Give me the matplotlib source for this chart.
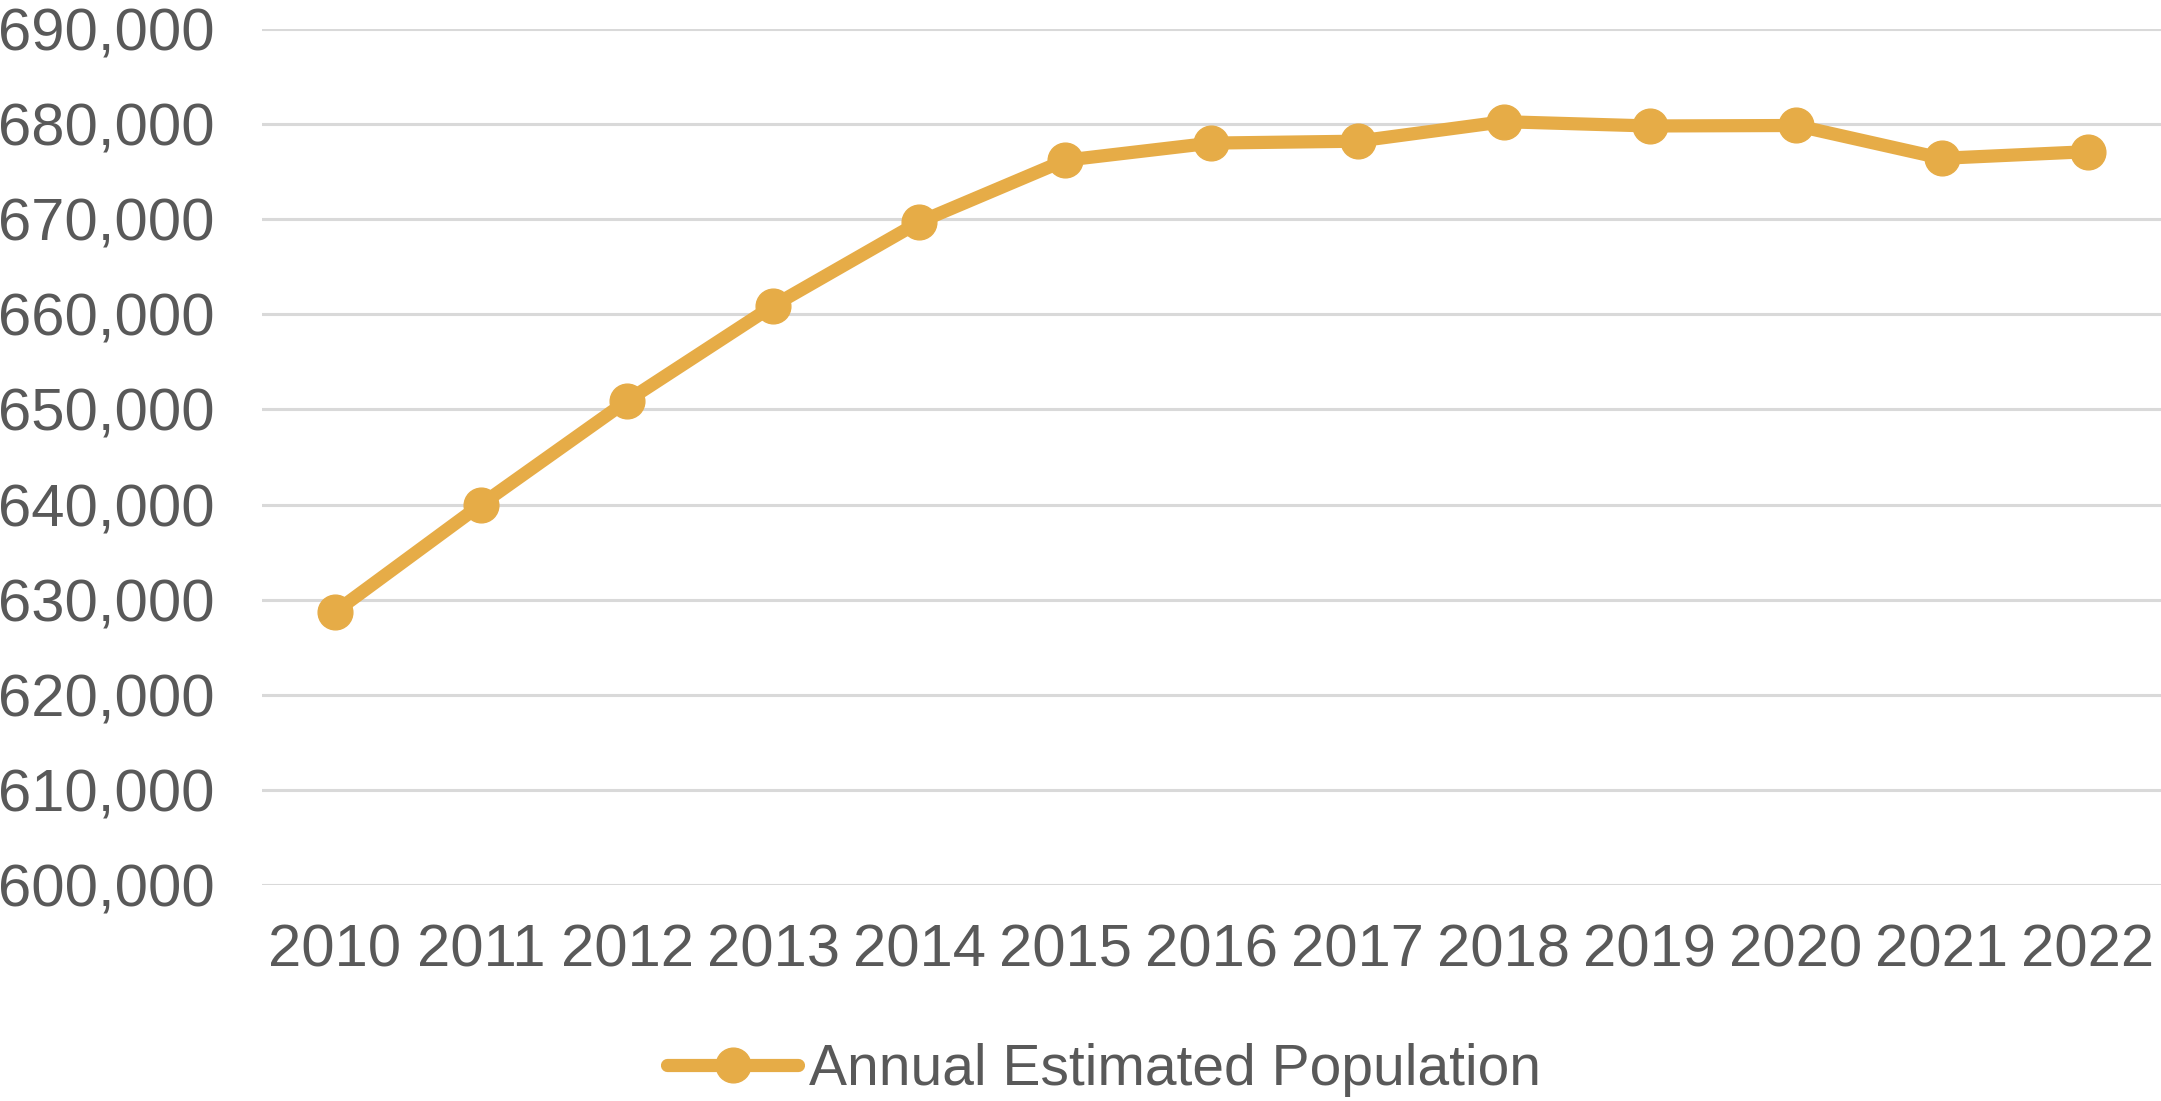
import matplotlib.pyplot as plt
from matplotlib.ticker import FuncFormatter

plt.rcParams['font.family'] = ['Liberation Sans', 'DejaVu Sans']

years = ['2010', '2011', '2012', '2013', '2014', '2015', '2016',
         '2017', '2018', '2019', '2020', '2021', '2022']
population = [628700, 640000, 650900, 660900, 669700, 676200, 678000,
              678200, 680250, 679800, 679850, 676400, 677100]
yticks = list(range(600000, 690001, 10000))

gold = '#E6AC47'
grey_txt = '#595959'

fig = plt.figure(figsize=(21.61, 11.01), dpi=100)
ax = fig.add_axes([0.1212, 0.1962, 0.8788, 0.7775])

x = list(range(len(years)))
ax.plot(x, population, color=gold, linewidth=9.5, marker='o', markersize=25,
        solid_capstyle='round', label='Annual Estimated Population', zorder=3)

ax.set_xlim(-0.5, len(years) - 0.5)
ax.set_ylim(600000, 690000)
ax.set_yticks(yticks)
ax.yaxis.set_major_formatter(FuncFormatter(lambda v, p: f'{int(v):,}'))
ax.set_xticks(x)
ax.set_xticklabels(years)

ax.grid(axis='y', color='#D9D9D9', linewidth=2.2)
ax.set_axisbelow(True)
for s in ax.spines.values():
    s.set_visible(False)
ax.tick_params(axis='both', length=0, labelsize=43, labelcolor=grey_txt)
ax.tick_params(axis='y', pad=34)
ax.tick_params(axis='x', pad=28)

fig.legend(loc='center', bbox_to_anchor=(0.511, 0.028), frameon=False,
           fontsize=41, labelcolor=grey_txt, handlelength=2.3,
           handletextpad=0.2)

fig.savefig('out.png', dpi=100)
